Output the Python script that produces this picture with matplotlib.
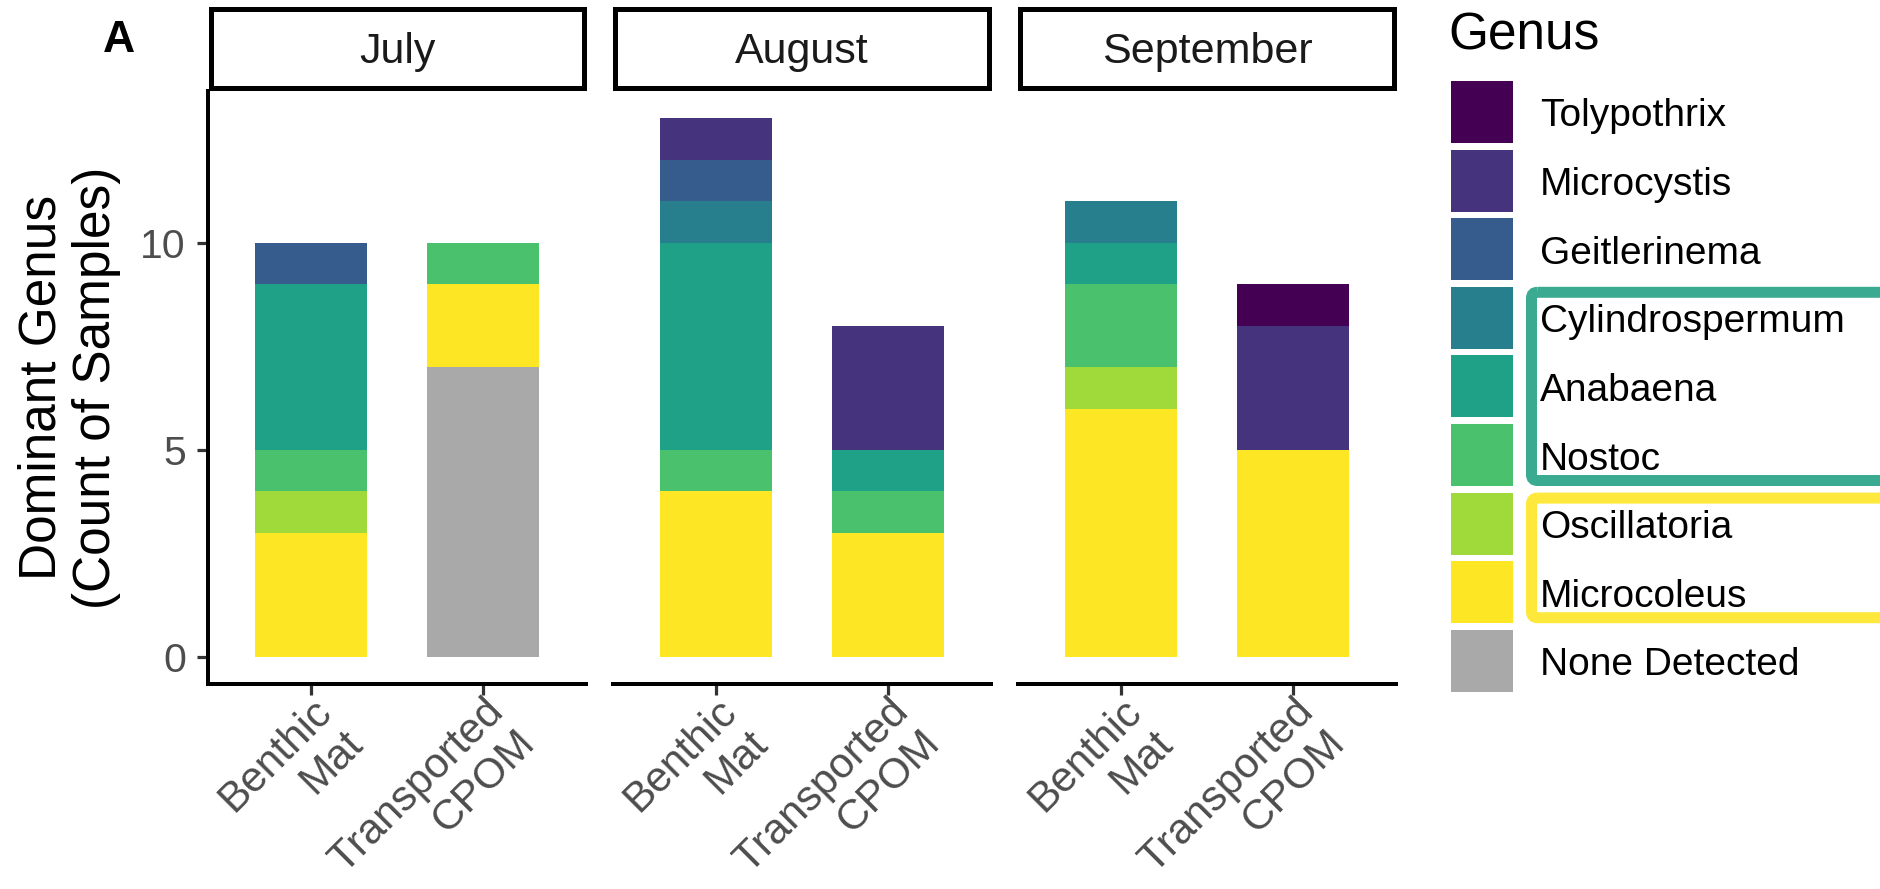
import numpy as np
import matplotlib
matplotlib.use("Agg")
import matplotlib.pyplot as plt
from matplotlib.patches import Rectangle, FancyBboxPatch

plt.rcParams['font.family'] = ['Liberation Sans', 'DejaVu Sans']

W, H = 1881, 889
PT = 0.72  # points per pixel at dpi 100

months = ["July", "August", "September"]
sources = ["Benthic\nMat", "Transported\nCPOM"]

# stacking order, bottom to top
genera = ["None Detected", "Microcoleus", "Oscillatoria", "Nostoc", "Anabaena",
          "Cylindrospermum", "Geitlerinema", "Microcystis", "Tolypothrix"]
genus_colors = ["#A9A9A9", "#FDE725", "#9FDA3A", "#4AC16D", "#1FA187",
                "#277F8E", "#365C8D", "#46337E", "#440154"]

# sample counts per genus, same order as `genera`
july_benthic = [0, 3, 1, 1, 4, 0, 1, 0, 0]
july_cpom = [7, 2, 0, 1, 0, 0, 0, 0, 0]
aug_benthic = [0, 4, 0, 1, 5, 1, 1, 1, 0]
aug_cpom = [0, 3, 0, 1, 1, 0, 0, 3, 0]
sep_benthic = [0, 6, 1, 2, 1, 1, 0, 0, 0]
sep_cpom = [0, 5, 0, 0, 0, 0, 0, 3, 1]

panel_data = [(july_benthic, july_cpom), (aug_benthic, aug_cpom), (sep_benthic, sep_cpom)]

legend_order = ["Tolypothrix", "Microcystis", "Geitlerinema", "Cylindrospermum",
                "Anabaena", "Nostoc", "Oscillatoria", "Microcoleus", "None Detected"]
highlight_groups = [("#3AAB91", ["Cylindrospermum", "Anabaena", "Nostoc"]),
                    ("#FDE83B", ["Oscillatoria", "Microcoleus"])]

fig = plt.figure(figsize=(W / 100, H / 100), dpi=100)


def px_axes(left, top, right, bottom):
    return fig.add_axes([left / W, 1 - bottom / H, (right - left) / W, (bottom - top) / H])


panel_left = [208, 612.8, 1017.8]
panel_w = 378.4
panel_top, panel_bottom = 91.3, 684.3

axes = []
for k, (month, (benthic, cpom)) in enumerate(zip(months, panel_data)):
    l = panel_left[k]
    ax = px_axes(l, panel_top, l + panel_w, panel_bottom)
    bottom = np.zeros(2)
    for g, col in enumerate(genus_colors):
        vals = np.array([benthic[g], cpom[g]], dtype=float)
        ax.bar([1, 2], vals, width=0.65, bottom=bottom, color=col, linewidth=0)
        bottom += vals
    ax.set_xlim(0.4, 2.6)
    ax.set_ylim(-0.65, 13.65)
    ax.set_xticks([1, 2])
    ax.set_xticklabels(sources, rotation=45, ha='right', va='top',
                       rotation_mode='anchor', multialignment='right',
                       fontsize=30.5, linespacing=1.15)
    ax.set_yticks([0, 5, 10])
    for s in ['top', 'right']:
        ax.spines[s].set_visible(False)
    for s in ['left', 'bottom']:
        ax.spines[s].set_linewidth(4 * PT)
        ax.spines[s].set_color('black')
    ax.tick_params(axis='both', length=11 * PT, width=3.2 * PT, color='#333333',
                   labelcolor='#4D4D4D')
    ax.tick_params(axis='y', pad=8, labelsize=29.5)
    ax.tick_params(axis='x', pad=-3)
    if k > 0:
        ax.spines['left'].set_visible(False)
        ax.tick_params(axis='y', left=False, labelleft=False)
    ax.patch.set_alpha(0)
    axes.append(ax)

# overlay in pixel coordinates for strips, titles and the legend
ov = fig.add_axes([0, 0, 1, 1])
ov.set_xlim(0, W)
ov.set_ylim(H, 0)
ov.axis('off')

for k, month in enumerate(months):
    l = panel_left[k]
    ov.add_patch(Rectangle((l + 2.5, 8.5), panel_w - 5, 79, facecolor='white',
                           edgecolor='black', linewidth=5 * PT))
    ov.text(l + panel_w / 2, 63, month, ha='center', va='baseline',
            fontsize=31, color='#1A1A1A')

ov.text(103, 52, "A", fontsize=32, fontweight='bold', ha='left', va='baseline')
ov.text(69, (panel_top + panel_bottom) / 2, "Dominant Genus\n(Count of Samples)",
        rotation=90, ha='center', va='center', fontsize=37, linespacing=1.15)

# legend
key_left, key_size, key_top, key_pitch = 1451, 62, 81, 68.6
ov.text(1448, 50, "Genus", fontsize=37, ha='left', va='baseline')
row_of = {}
for i, name in enumerate(legend_order):
    top = key_top + i * key_pitch
    row_of[name] = top
    ov.add_patch(Rectangle((key_left, top), key_size, key_size,
                           facecolor=genus_colors[genera.index(name)], linewidth=0))
    ov.text(1540, top + key_size / 2 + 14.5, name, fontsize=28, ha='left', va='baseline')

lw_box = 11
for col, names in highlight_groups:
    top = row_of[names[0]] + lw_box / 2
    bot = row_of[names[-1]] + key_size - lw_box / 2
    ov.add_patch(FancyBboxPatch((1526 + lw_box / 2, top), 400, bot - top,
                                boxstyle="round,pad=0,rounding_size=6",
                                facecolor='none', edgecolor=col, linewidth=lw_box * PT))

fig.savefig("out.png", dpi=100)
